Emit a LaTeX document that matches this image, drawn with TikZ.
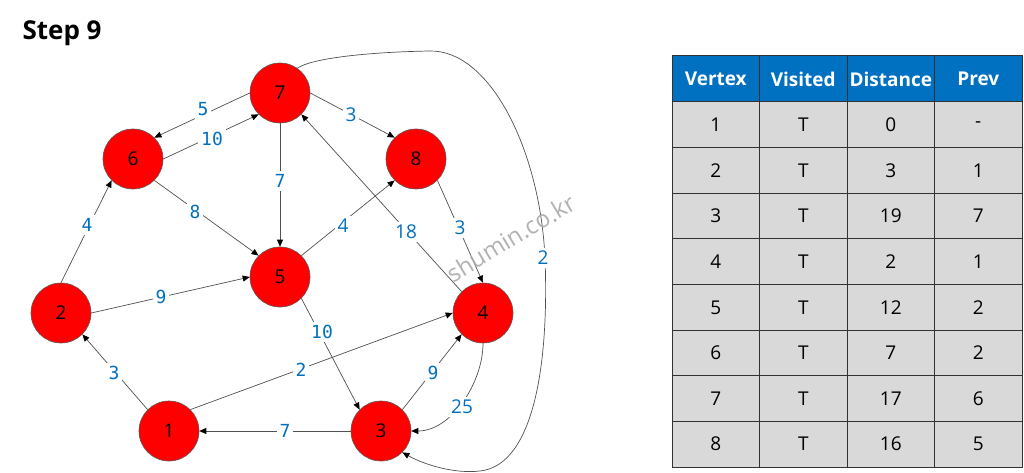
\documentclass[tikz,border=0pt]{standalone}
\usepackage{fontspec}
\setmainfont{Open Sans}
\newfontfamily\monof{DejaVu Sans Mono}
\usetikzlibrary{arrows.meta}
\definecolor{lblue}{RGB}{0,112,192}
\definecolor{hblue}{RGB}{0,112,192}
\definecolor{cellgray}{RGB}{217,217,217}
\definecolor{edgec}{RGB}{80,80,80}
\definecolor{wmgray}{RGB}{170,170,170}
\begin{document}
\begin{tikzpicture}[x=1pt,y=-1pt,
  vtx/.style={circle,fill=red,draw={rgb,255:red,90;green,90;blue,90},line width=0.6pt,minimum size=60pt,inner sep=0pt,font=\fontsize{19}{22}\selectfont},
  edge/.style={draw=edgec,line width=0.7pt,-{Triangle[length=7pt,width=6pt,color=black]}},
  lm/.style={fill=white,inner sep=3pt,text=lblue,font=\monof\fontsize{18}{22}\selectfont},
  ls/.style={fill=white,inner sep=3pt,text=lblue,font=\fontsize{19}{22}\selectfont},
  cell/.style={draw={rgb,255:red,50;green,50;blue,50},line width=1pt,fill=cellgray,minimum width=87.5pt,minimum height=45.625pt,inner sep=0pt,font=\fontsize{19}{22}\selectfont},
  hcell/.style={cell,fill=hblue,text=white,minimum height=46pt,font=\bfseries\fontsize{19}{22}\selectfont}
]
\useasboundingbox (0,0) rectangle (1024,473);
\fill[white] (0,0) rectangle (1024,473);

\node[anchor=base west,font=\bfseries\fontsize{26}{30}\selectfont] (title) at (19,40) {Step 9};

% vertices
\node[vtx] (n7) at (280,93) {7};
\node[vtx] (n6) at (133,159) {6};
\node[vtx] (n8) at (416,159) {8};
\node[vtx] (n5) at (280,277) {5};
\node[vtx] (n2) at (61,313) {2};
\node[vtx] (n4) at (483,313) {4};
\node[vtx] (n1) at (169,431) {1};
\node[vtx] (n3) at (381,431) {3};

% edges
\draw[edge] (n7.180) -- (n6.45);
\draw[edge] (n6.0) -- (n7.225);
\draw[edge] (n7.270) -- (n5.90);
\draw[edge] (n6.-45) -- (n5.135);
\draw[edge] (n2.90) -- (n6.225);
\draw[edge] (n2.0) -- (n5.180);
\draw[edge] (n1.135) -- (n2.-45);
\draw[edge] (n1.45) -- (n4.180);
\draw[edge] (n3.180) -- (n1.0);
\draw[edge] (n5.-45) -- (n3.135);
\draw[edge] (n3.45) -- (n4.225);
\draw[edge] (n4.270) .. controls (483,383) and (451,431) .. (n3.0);
\draw[edge] (n5.45) -- (n8.225);
\draw[edge] (n4.135) -- (n7.-45);
\draw[edge] (n7.0) -- (n8.135);
\draw[edge] (n8.-45) -- (n4.90);
\draw[edge] (n7.55) .. controls (312,58) and (370,52) .. (430,51)
  .. controls (490,50) and (540,150) .. (545,258)
  .. controls (549,360) and (535,465) .. (480,471)
  .. controls (455,474) and (425,465) .. (n3.-45);

% edge labels
\node[lm] (l76) at (203,109) {5};
\node[lm] (l67) at (212,139) {10};
\node[lm] (l75) at (280,181) {7};
\node[lm] (l65) at (195,212) {8};
\node[lm] (l26) at (87,225) {4};
\node[lm] (l25) at (161,297) {9};
\node[lm] (l12) at (114,373) {3};
\node[lm] (l14) at (301,370) {2};
\node[lm] (l31) at (285,431) {7};
\node[lm] (l53) at (322,332) {10};
\node[lm] (l34) at (433,373) {9};
\node[ls] (l43) at (462,407) {25};
\node[ls] (l78) at (351,115) {3};
\node[ls] (l58) at (343,226) {4};
\node[ls] (l47) at (406,232) {18};
\node[ls] (l84) at (460,228) {3};
\node[ls] (l73) at (543,258) {2};

% watermark
\node[text=wmgray,rotate=31,font=\fontsize{24}{28}\selectfont,opacity=0.9] (wm) at (511,238) {shumin.co.kr};

% table
\node[hcell] (h1) at (715.75,79) {Vertex};
\node[hcell] (h2) at (803.25,79) {Visited};
\node[hcell] (h3) at (890.75,79) {Distance};
\node[hcell] (h4) at (978.25,79) {Prev};
\foreach \v/\d/\p [count=\i] in {1/0/-,2/3/1,3/19/7,4/2/1,5/12/2,6/7/2,7/17/6,8/16/5}{
  \pgfmathsetmacro\yc{102+45.625*(\i-0.5)}
  \node[cell] (a\i) at (715.75,\yc) {\v};
  \node[cell] (b\i) at (803.25,\yc) {T};
  \node[cell] (c\i) at (890.75,\yc) {\d};
  \node[cell] (d\i) at (978.25,\yc) {\p};
}
\end{tikzpicture}
\end{document}
